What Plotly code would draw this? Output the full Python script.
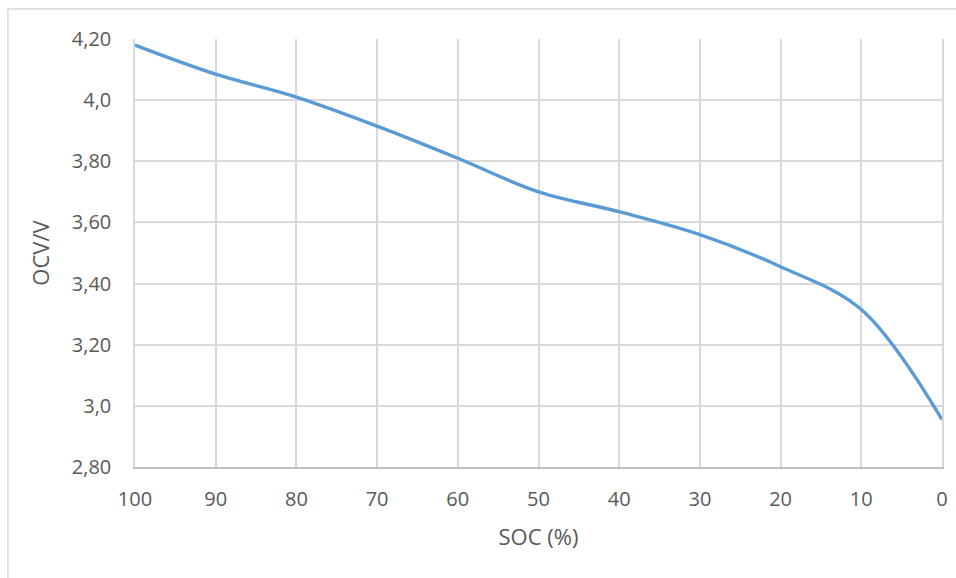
import plotly.graph_objects as go

soc = [100, 90, 80, 70, 60, 50, 40, 30, 20, 10, 0]
ocv = [4.18, 4.085, 4.01, 3.915, 3.81, 3.70, 3.635, 3.56, 3.455, 3.315, 2.955]

x_ticks = [100, 90, 80, 70, 60, 50, 40, 30, 20, 10, 0]
y_ticks = [2.80, 3.00, 3.20, 3.40, 3.60, 3.80, 4.00, 4.20]
y_tick_labels = ["2,80", "3,0", "3,20", "3,40", "3,60", "3,80", "4,0", "4,20"]

FONT = "Open Sans"
TXT = "#595959"
GRID = "#d9d9d9"

fig = go.Figure()
fig.add_trace(go.Scatter(
    x=soc, y=ocv, mode="lines",
    line=dict(color="#5B9BD5", width=3.4, shape="spline", smoothing=1.0),
    showlegend=False, hoverinfo="x+y",
))

fig.update_layout(
    width=956, height=578,
    margin=dict(l=135, r=8, t=39, b=111),
    paper_bgcolor="white", plot_bgcolor="white",
    font=dict(family=FONT, color=TXT, size=20),
    xaxis=dict(
        range=[100, 0], tickmode="array", tickvals=x_ticks,
        ticktext=[str(v) for v in x_ticks],
        showgrid=True, gridcolor=GRID, gridwidth=1.5,
        showline=True, linecolor="#bfbfbf", linewidth=1.5,
        zeroline=False, ticks="", ticklabelstandoff=13,
        tickfont=dict(size=20, color=TXT, family=FONT),
        title=dict(text="SOC (%)", font=dict(size=22, color=TXT, family=FONT), standoff=19),
    ),
    yaxis=dict(
        range=[2.80, 4.20], tickmode="array", tickvals=y_ticks, ticktext=y_tick_labels,
        showgrid=True, gridcolor=GRID, gridwidth=1.5,
        showline=True, mirror=True, linecolor=GRID, linewidth=1.5,
        zeroline=False, ticks="", ticklabelstandoff=18,
        tickfont=dict(size=20, color=TXT, family=FONT),
        title=dict(text="OCV/V", font=dict(size=22, color=TXT, family=FONT), standoff=16),
    ),
    shapes=[
        dict(type="line", xref="paper", yref="paper",
             x0=(7 - 135) / 813, x1=1.02, y0=1 + 30 / 428, y1=1 + 30 / 428,
             line=dict(color=GRID, width=1.5)),
        dict(type="line", xref="paper", yref="paper",
             x0=(7 - 135) / 813, x1=(7 - 135) / 813, y0=1 + 30 / 428, y1=-0.3,
             line=dict(color=GRID, width=1.5)),
    ],
)

fig.write_html(
    "out.html",
    config={"displayModeBar": False},
    post_script="document.body.style.margin='0px';document.body.style.overflow='hidden';",
)
